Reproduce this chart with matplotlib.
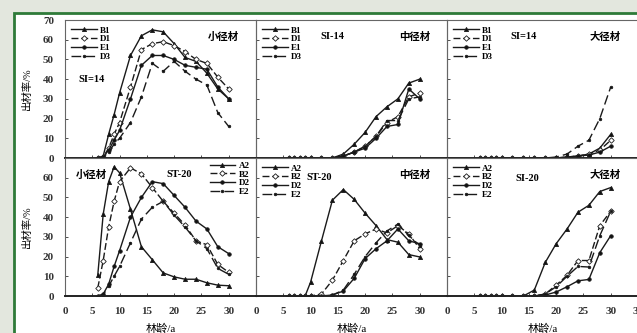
import matplotlib
matplotlib.use("Agg")
import matplotlib.pyplot as plt
from matplotlib.patches import Rectangle

plt.rcParams["font.family"] = ["Liberation Serif", "Noto Sans CJK SC"]
plt.rcParams["font.weight"] = "bold"

# stand age (a)
ages = [6, 7, 8, 9, 10, 12, 14, 16, 18, 20, 22, 24, 26, 28, 30]

# SI=14, small / medium / large timber (%)
si14_names = ["B1", "D1", "E1", "D3"]
b1_small = [0, 1, 12, 22, 33, 52, 62, 65, 64, 58, 51, 49, 43, 35, 30]
d1_small = [0, 0.5, 5, 12, 18, 36, 55, 58, 59, 57, 54, 50, 48, 41, 35]
e1_small = [0, 0.5, 4, 9, 14, 30, 47, 52, 52, 50, 47, 46, 45, 36, 30]
d3_small = [0, 0.3, 3, 7, 10, 18, 31, 48, 44, 49, 44, 40, 37, 23, 16]

b1_mid = [0, 0, 0, 0, 0, 0, 0, 2, 7, 13, 21, 26, 30, 38, 40]
d1_mid = [0, 0, 0, 0, 0, 0, 0, 1, 3, 6, 11, 18, 21, 31, 33]
e1_mid = [0, 0, 0, 0, 0, 0, 0, 1, 3, 5, 10, 16, 17, 35, 30]
d3_mid = [0, 0, 0, 0, 0, 0, 0, 1, 3, 6, 11, 19, 19, 30, 31]

b1_large = [0, 0, 0, 0, 0, 0, 0, 0, 0, 0, 0.5, 1, 2, 5, 12]
d1_large = [0, 0, 0, 0, 0, 0, 0, 0, 0, 0, 0.5, 1, 2, 4, 9]
e1_large = [0, 0, 0, 0, 0, 0, 0, 0, 0, 0, 0.3, 1, 1.5, 3, 6]
d3_large = [0, 0, 0, 0, 0, 0, 0, 0, 0, 0.5, 2, 6, 9, 20, 36]

# SI=20
si20_names = ["A2", "B2", "D2", "E2"]
a2_small = [10.5, 41.5, 58, 65.5, 62.5, 44, 25, 18.4, 11.7, 9.7, 8.5, 8.5, 6.7, 5.5, 5.2]
b2_small = [4, 18, 35, 48, 58, 65, 62, 55, 48, 42, 36, 28, 26, 16, 12]
d2_small = [0, 1, 6, 15, 23, 40, 50, 58, 57, 51, 45, 38, 34, 25, 21.5]
e2_small = [0, 0.5, 5, 10, 15, 27, 39, 45, 48, 41, 35, 28, 24, 14, 11]

a2_mid = [0, 0, 0, 0, 7, 28, 48.6, 54, 49, 42, 35.7, 28.6, 27.3, 21, 19.8]
b2_mid = [0, 0, 0, 0, 0, 1, 8, 18, 28, 31.5, 34, 32, 35.7, 31.5, 24]
d2_mid = [0, 0, 0, 0, 0, 0, 0.5, 2.5, 9, 19, 24, 28, 34, 28, 26.5]
e2_mid = [0, 0, 0, 0, 0, 0, 0.5, 3, 11, 20, 27, 33, 36.5, 30.7, 25.6]

a2_large = [0, 0, 0, 0, 0, 0, 0, 3, 17, 26.5, 34, 42.5, 46, 53, 55]
b2_large = [0, 0, 0, 0, 0, 0, 0, 0, 1, 5.5, 10.5, 18, 18, 35.7, 43]
d2_large = [0, 0, 0, 0, 0, 0, 0, 0, 0.5, 2, 4.7, 7.7, 8.4, 22, 30.6]
e2_large = [0, 0, 0, 0, 0, 0, 0, 0, 1, 4.7, 10, 15, 14.7, 30.6, 43]

# line styles per series position
STYLES = [
    dict(ls="-", marker="^", ms=3, mfc="#111"),
    dict(ls=(0, (5, 2)), marker="D", ms=2.8, mfc="white"),
    dict(ls="-", marker="o", ms=2.5, mfc="#111"),
    dict(ls=(0, (7, 3)), marker="o", ms=1.8, mfc="#111"),
]

W, H = 637, 333
fig = plt.figure(figsize=(W / 100, H / 100), dpi=100)
fig.patch.set_facecolor("#e3e7de")
fig.patches.append(Rectangle((14 / W, -0.02), 1.0, 1 - 13 / H + 0.02,
                             transform=fig.transFigure, facecolor="white",
                             edgecolor="#2e7a38", lw=2, zorder=-5))

left, pw, ph = 65, 191, 138
tops = [20, 158]
panels = [
    [(si14_names, [b1_small, d1_small, e1_small, d3_small], "小径材", "SI=14"),
     (si14_names, [b1_mid, d1_mid, e1_mid, d3_mid], "中径材", "SI-14"),
     (si14_names, [b1_large, d1_large, e1_large, d3_large], "大径材", "SI=14")],
    [(si20_names, [a2_small, b2_small, d2_small, e2_small], "小径材", "ST-20"),
     (si20_names, [a2_mid, b2_mid, d2_mid, e2_mid], "中径材", "ST-20"),
     (si20_names, [a2_large, b2_large, d2_large, e2_large], "大径材", "SI-20")],
]

for r, row in enumerate(panels):
    for c, (names, series, kind, si) in enumerate(row):
        x0 = left + c * pw
        ax = fig.add_axes([x0 / W, 1 - (tops[r] + ph) / H, pw / W, ph / H])
        ax.set_facecolor("none")
        for name, vals, st in zip(names, series, STYLES):
            ax.plot(ages, vals, color="#1a1a1a", lw=1.0, mec="#1a1a1a",
                    mew=0.6, label=name, **st)
        ax.set_xlim(0, 35)
        ax.set_ylim(0, 70)
        for s in ax.spines.values():
            s.set_color("#666")
            s.set_linewidth(0.8)
        ax.spines["bottom"].set_color("#222")
        ax.spines["bottom"].set_linewidth(1.4)
        ax.tick_params(direction="in", length=2, width=0.6, colors="#333",
                       labelsize=8, pad=8)
        ax.set_yticks(range(0, 71, 10))
        if c == 0:
            if r == 1:
                ax.set_yticks(range(0, 61, 10))
            ax.set_ylabel("出材率/%", fontsize=7.5, labelpad=8)
        else:
            ax.tick_params(labelleft=False)
        if r == 1:
            ax.set_xticks(range(0, 36, 5) if c == 2 else range(0, 31, 5))
            ax.set_xlabel("林龄/a", fontsize=8, labelpad=5)
        else:
            ax.set_xticks(range(0, 31, 5))
            ax.tick_params(labelbottom=False)

        if r == 1 and c == 0:
            kx = 0.14
        else:
            kx = 0.83
        ax.text(kx, 0.88, kind, transform=ax.transAxes, fontsize=7.5,
                ha="center", va="center")
        if r == 0:
            sx, sy = [(0.14, 0.57), (0.4, 0.88), (0.4, 0.88)][c]
            leg_loc, leg_anchor = "upper left", (0.0, 1.0)
        else:
            sx, sy = [(0.6, 0.88), (0.33, 0.86), (0.42, 0.85)][c]
            if c == 0:
                leg_loc, leg_anchor = "upper right", (1.0, 1.02)
            else:
                leg_loc, leg_anchor = "upper left", (0.0, 1.0)
        ax.text(sx, sy, si, transform=ax.transAxes, fontsize=7.5,
                ha="center", va="center")
        ax.legend(loc=leg_loc, bbox_to_anchor=leg_anchor, frameon=False,
                  fontsize=6.5, handlelength=2.8, handletextpad=0.4,
                  labelspacing=0.05, borderaxespad=0.3)

fig.savefig("out.png", dpi=100, facecolor=fig.get_facecolor())
